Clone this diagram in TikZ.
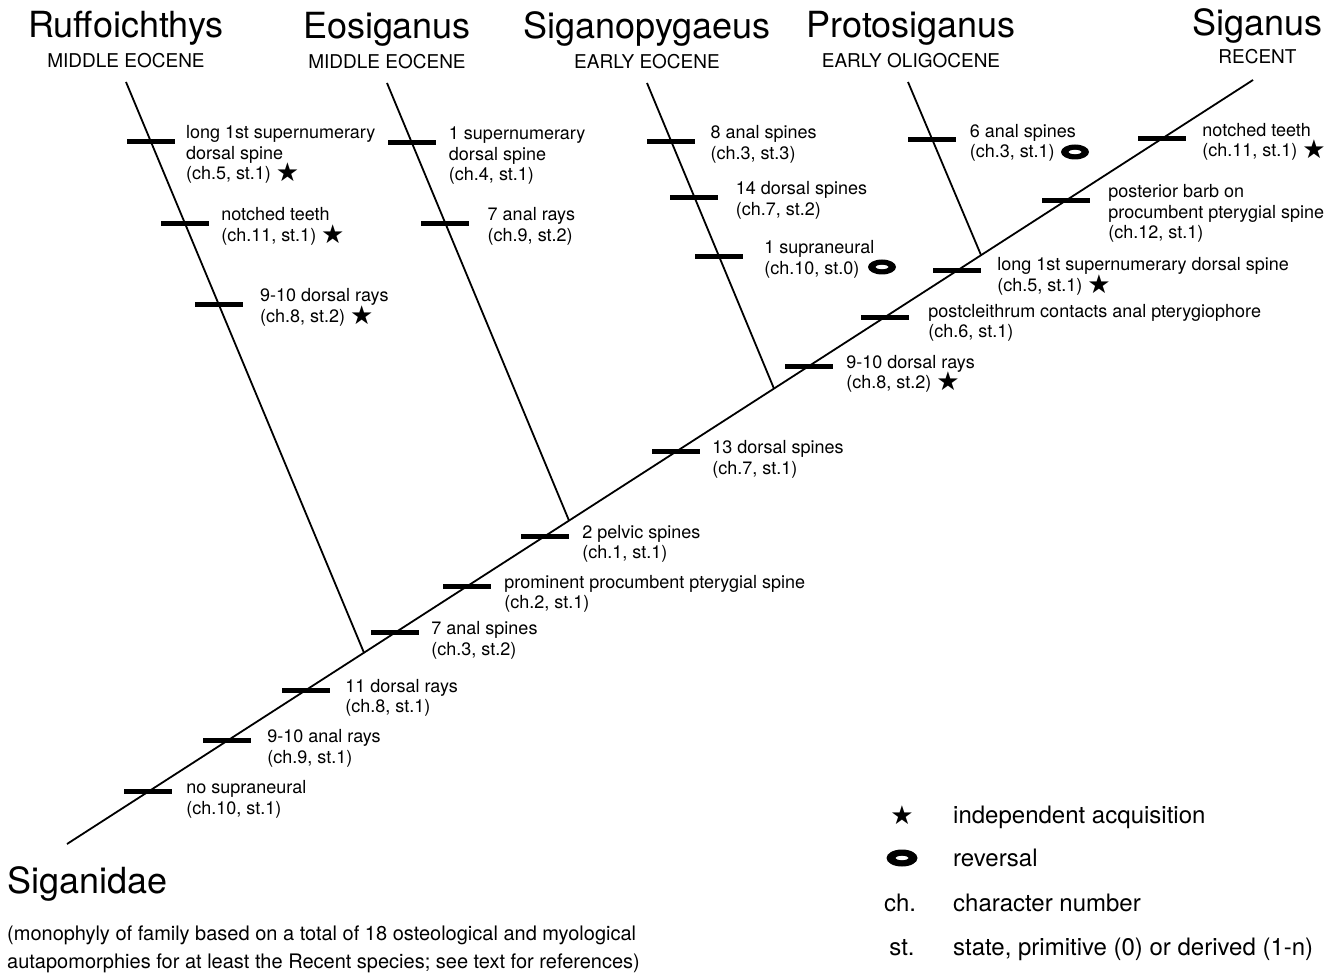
\documentclass[tikz,border=0pt]{standalone}
\usepackage{fontspec}
\setmainfont{TeX Gyre Heros}
\newfontfamily\symfont{DejaVu Sans}
\usetikzlibrary{positioning, shapes.geometric}

\newcommand{\indep}{\smash{\raisebox{-2pt}{\symfont\fontsize{26}{26}\selectfont ★}}}

\tikzstyle{branch} = [line width = 1.8pt]
\tikzstyle{charbar} = [rectangle, fill = black, minimum width = 48pt, minimum height = 5pt, inner sep = 0pt]
% a multi-line label sits on the baseline of its last line
\tikzstyle{charlabel} = [anchor = base west, align = left, inner sep = 0pt, font = \fontsize{18}{20.5}\selectfont]
\tikzstyle{low2} = [charlabel, yshift = -22.5pt]
\tikzstyle{mid2} = [charlabel, yshift = -20.5pt]
\tikzstyle{high2} = [charlabel, yshift = -18pt]
\tikzstyle{high3} = [charlabel, yshift = -38.5pt]
\tikzstyle{taxon} = [inner sep = 0pt, font = \fontsize{36}{40}\selectfont]
\tikzstyle{epoch} = [inner sep = 0pt, font = \fontsize{19}{22}\selectfont]
\tikzstyle{revmark} = [ellipse, fill = black, minimum width = 28pt, minimum height = 15pt, inner sep = 0pt,
	path picture = {\fill[white] (path picture bounding box.center) ellipse [x radius = 6.5pt, y radius = 2.1pt];}]
\tikzstyle{legendtext} = [anchor = base west, inner sep = 0pt, font = \fontsize{24}{28}\selectfont]

\begin{document}
\begin{tikzpicture}[x = 1pt, y = -1pt, node distance = 14pt]
			\useasboundingbox (0,0) rectangle (1341,976);
			% stem of the tree and the four fossil branches
			\coordinate (root) at (67,844);
			\coordinate (top) at (1253,80);
			\coordinate (tR) at (126,82);
			\coordinate (tE) at (387,83);
			\coordinate (tS) at (647,83);
			\coordinate (tP) at (908,82);
			\path (root) -- (top)
			coordinate[pos = 0.2504] (jR)
			coordinate[pos = 0.4233] (jE)
			coordinate[pos = 0.5961] (jS)
			coordinate[pos = 0.7707] (jP);
			\draw[branch] (root) -- (top);
			\draw[branch] (tR) -- (jR);
			\draw[branch] (tE) -- (jE);
			\draw[branch] (tS) -- (jS);
			\draw[branch] (tP) -- (jP);
			%%%%%%%%%%%%%%%%%%%%%%%%%%%%%%%%%%%%%%%%%%%%%
			% taxa and epochs
			\node[epoch, above = 14pt of tR] (eR) {MIDDLE EOCENE};
			\node[taxon, above = 8pt of eR] (nR) {Ruffoichthys};
			\node[epoch, above = 14pt of tE] (eE) {MIDDLE EOCENE};
			\node[taxon, above = 8pt of eE] (nE) {Eosiganus};
			\node[epoch, above = 14pt of tS] (eS) {EARLY EOCENE};
			\node[taxon, above = 8pt of eS] (nS) {Siganopygaeus};
			\node[epoch, above = 14pt of tP, xshift = 3pt] (eP) {EARLY OLIGOCENE};
			\node[taxon, above = 8pt of eP] (nP) {Protosiganus};
			\node[epoch, above = 16pt of top, xshift = 4.5pt] (eG) {RECENT};
			\node[taxon, above = 5.5pt of eG] (nG) {Siganus};
			%%%%%%%%%%%%%%%%%%%%%%%%%%%%%%%%%%%%%%%%%%%%%
			% character bars on the stem
			\path (root) -- (top)
			node[charbar, pos = 0.0683] (m1) {}
			node[charbar, pos = 0.1349] (m2) {}
			node[charbar, pos = 0.2015] (m3) {}
			node[charbar, pos = 0.2766] (m4) {}
			node[charbar, pos = 0.3373] (m5) {}
			node[charbar, pos = 0.4030] (m6) {}
			node[charbar, pos = 0.5135] (m7) {}
			node[charbar, pos = 0.6256] (m8) {}
			node[charbar, pos = 0.6897] (m9) {}
			node[charbar, pos = 0.7504] (m10) {}
			node[charbar, pos = 0.8423] (m11) {}
			node[charbar, pos = 0.9233] (m12) {};
			\node[right = 14pt of m1, low2] (lm1) {no supraneural\\(ch.10, st.1)};
			\node[right = 16pt of m2, low2] (lm2) {9-10 anal rays\\(ch.9, st.1)};
			\node[right = 15pt of m3, low2] (lm3) {11 dorsal rays\\(ch.8, st.1)};
			\node[right = 12pt of m4, low2] (lm4) {7 anal spines\\(ch.3, st.2)};
			\node[right = 13pt of m5, low2] (lm5) {prominent procumbent pterygial spine\\(ch.2, st.1)};
			\node[right = 13pt of m6, low2] (lm6) {2 pelvic spines\\(ch.1, st.1)};
			\node[right = 12pt of m7, low2] (lm7) {13 dorsal spines\\(ch.7, st.1)};
			\node[right = 13pt of m8, low2] (lm8) {9-10 dorsal rays\\(ch.8, st.2) \indep};
			\node[right = 19pt of m9, mid2] (lm9) {postcleithrum contacts anal pterygiophore\\(ch.6, st.1)};
			\node[right = 16pt of m10, mid2] (lm10) {long 1st supernumerary dorsal spine\\(ch.5, st.1) \indep};
			\node[right = 18pt of m11, high3] (lm11) {posterior barb on\\procumbent pterygial spine\\(ch.12, st.1)};
			\node[right = 16pt of m12, high2] (lm12) {notched teeth\\(ch.11, st.1) \indep};
			%%%%%%%%%%%%%%%%%%%%%%%%%%%%%%%%%%%%%%%%%%%%%
			% character bars on the branches
			\path (tR) -- (jR)
			node[charbar, pos = 0.1035] (r1) {}
			node[charbar, pos = 0.2474] (r2) {}
			node[charbar, pos = 0.3895] (r3) {};
			\path (tE) -- (jE)
			node[charbar, pos = 0.1350] (e1) {}
			node[charbar, pos = 0.3204] (e2) {};
			\path (tS) -- (jS)
			node[charbar, pos = 0.1900] (s1) {}
			node[charbar, pos = 0.3738] (s2) {}
			node[charbar, pos = 0.5672] (s3) {};
			\path (tP) -- (jP)
			node[charbar, pos = 0.3333] (p1) {};
			\node[right = 11pt of r1, high3] (lr1) {long 1st supernumerary\\dorsal spine\\(ch.5, st.1) \indep};
			\node[right = 12pt of r2, high2] (lr2) {notched teeth\\(ch.11, st.1) \indep};
			\node[right = 17pt of r3, high2] (lr3) {9-10 dorsal rays\\(ch.8, st.2) \indep};
			\node[right = 13pt of e1, high3] (le1) {1 supernumerary\\dorsal spine\\(ch.4, st.1)};
			\node[right = 18pt of e2, high2] (le2) {7 anal rays\\(ch.9, st.2)};
			\node[right = 15pt of s1, high2] (ls1) {8 anal spines\\(ch.3, st.3)};
			\node[right = 17pt of s2, high2] (ls2) {14 dorsal spines\\(ch.7, st.2)};
			\node[right = 21pt of s3, high2] (ls3) {1 supraneural\\(ch.10, st.0)};
			\node[right = 13pt of p1, high2] (lp1) {6 anal spines\\(ch.3, st.1)};
			\node[revmark] (o1) at (882,267) {};
			\node[revmark] (o2) at (1075,152) {};
			%%%%%%%%%%%%%%%%%%%%%%%%%%%%%%%%%%%%%%%%%%%%%
			% family name and legend
			\node[taxon, anchor = base west] (fam) at (7,893) {Siganidae};
			\node[anchor = base west, align = left, inner sep = 0pt, font = \fontsize{20}{28}\selectfont] (note) at (7,968)
			{(monophyly of family based on a total of 18 osteological and myological\\autapomorphies for at least the Recent species; see text for references)};
			\node[inner sep = 0pt] (kstar) at (902,822) {\indep};
			\node[legendtext] (k1) at (953,823) {independent acquisition};
			\node[revmark, minimum width = 31pt, minimum height = 17pt] (krev) at (902,858) {};
			\node[legendtext] (k2) at (953,866) {reversal};
			\node[legendtext, anchor = base] (kch) at (900,911) {ch.};
			\node[legendtext] (k3) at (953,911) {character number};
			\node[legendtext, anchor = base] (kst) at (902,955) {st.};
			\node[legendtext] (k4) at (953,955) {state, primitive (0) or derived (1-n)};
		\end{tikzpicture}
\end{document}
